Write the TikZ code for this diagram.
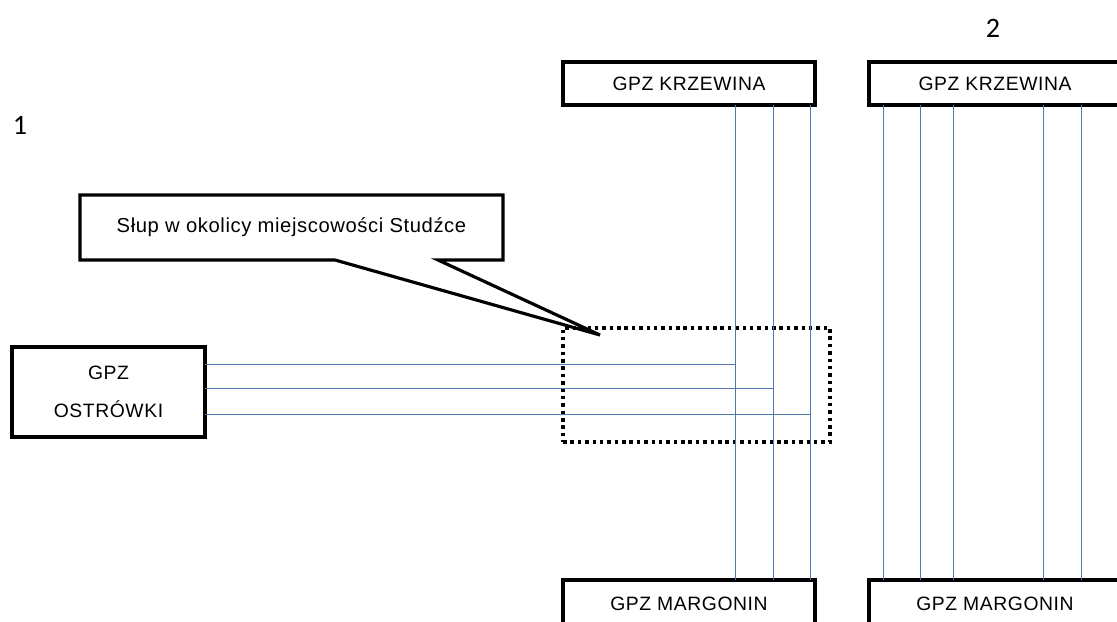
\documentclass[tikz,border=0pt]{standalone}
\usepackage{fontspec}
\setmainfont{Liberation Sans}
\newfontfamily\numfont{Carlito}
\usepackage{xcolor}
\usetikzlibrary{calc}
\definecolor{wireblue}{RGB}{78,122,176}
\begin{document}
\begin{tikzpicture}[
        gpz/.style={rectangle, draw=black, line width=1.8pt, fill=white,
                    inner sep=0pt, outer sep=0pt, align=center,
                    font=\fontsize{11}{13}\selectfont\addfontfeature{LetterSpace=3}},
        bus/.style={gpz, minimum width=5.04cm, minimum height=0.86cm},
        wire/.style={wireblue, line width=0.55pt},
        pole/.style={rectangle, draw=black, line width=1.8pt,
                     dash pattern=on 2pt off 2.2pt, inner sep=0pt, outer sep=0pt,
                     minimum width=5.34cm, minimum height=2.28cm},
        tag/.style={font=\numfont\fontsize{16}{18}\selectfont}
      ]
        \useasboundingbox (0,0) rectangle (22.34,-12.44);
        % Nodes — manually placed
        \node[tag] (n1) at (0.40,-2.50) {1};
        \node[tag] (n2) at (19.86,-0.56) {2};
        \node[pole] (studzce) at (13.93,-7.70) {};
        \node[bus] (krzA) at (13.78,-1.67) {GPZ KRZEWINA};
        \node[bus] (krzB) at (19.90,-1.67) {GPZ KRZEWINA};
        \node[bus, minimum height=0.96cm] (marA) at (13.78,-12.08) {GPZ MARGONIN};
        \node[bus, minimum height=0.96cm] (marB) at (19.90,-12.08) {GPZ MARGONIN};
        \node[gpz, minimum width=3.86cm, minimum height=1.80cm] (ostr) at (2.17,-7.84)
          {GPZ\\[9pt]OSTRÓWKI};
        \node[gpz, draw=none, fill=none, minimum width=8.46cm, minimum height=1.30cm,
              font=\fontsize{11.5}{13}\selectfont\addfontfeature{LetterSpace=3}]
          (callout) at (5.83,-4.55) {Słup w okolicy miejscowości Studźce};
        % Callout outline with pointer
        \coordinate (tip) at (12.00,-6.70);
        \coordinate (cb1) at ([xshift=0.87cm]callout.south);
        \coordinate (cb2) at ([xshift=2.93cm]callout.south);
        \draw[black, line width=1.8pt, line join=miter]
          (cb1) -- (callout.south west) -- (callout.north west)
          -- (callout.north east) -- (callout.south east) -- (cb2) -- (tip) -- cycle;
        % Lines to GPZ Krzewina / Margonin (1)
        \foreach \i/\dx/\dy in {1/0.92/0.56, 2/1.68/0.08, 3/2.42/-0.44} {
          \coordinate (a\i) at ([xshift=\dx cm]krzA.south);
          \coordinate (o\i) at ([yshift=\dy cm]ostr.east);
          \draw[wire] (a\i) -- (a\i |- marA.north);
          \draw[wire] (o\i) -- (o\i -| a\i);
        }
        % Lines (2)
        \foreach \i/\dx in {1/-2.24, 2/-1.50, 3/-0.84, 4/0.96, 5/1.72} {
          \coordinate (b\i) at ([xshift=\dx cm]krzB.south);
          \draw[wire] (b\i) -- (b\i |- marB.north);
        }
      \end{tikzpicture}
\end{document}
